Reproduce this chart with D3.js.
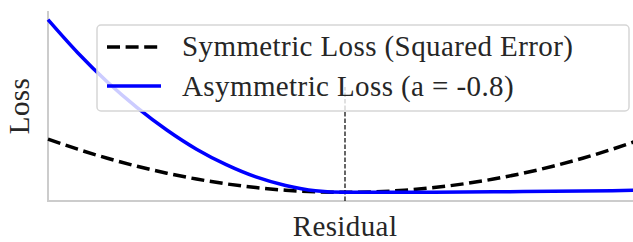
<!DOCTYPE html>
<html>
<head>
<meta charset="utf-8">
<script src="https://d3js.org/d3.v7.min.js"></script>
<style>
  body { margin: 0; background: #fff; }
  text { font-family: "Liberation Serif", serif; fill: #262626; }
</style>
</head>
<body>
<svg></svg>
<script>
// residual values
var residual = [-1, -0.9, -0.8, -0.7, -0.6, -0.5, -0.4, -0.3, -0.2, -0.1, 0,
                0.1, 0.2, 0.3, 0.4, 0.5, 0.6, 0.7, 0.8, 0.9, 1];
var symLoss  = [1, 0.81, 0.64, 0.49, 0.36, 0.25, 0.16, 0.09, 0.04, 0.01, 0,
                0.01, 0.04, 0.09, 0.16, 0.25, 0.36, 0.49, 0.64, 0.81, 1];
var asymLoss = [3.24, 2.62, 2.07, 1.59, 1.17, 0.81, 0.52, 0.29, 0.13, 0.03, 0,
                0.0004, 0.0016, 0.0036, 0.0064, 0.01, 0.0144, 0.0196, 0.0256, 0.0324, 0.04];
var seriesNames = ["Symmetric Loss (Squared Error)", "Asymmetric Loss (a = -0.8)"];
var vlineX = 0;

var W = 633, H = 242;
var svg = d3.select("svg").attr("width", W).attr("height", H);

var x = d3.scaleLinear().domain([-1, 1]).range([48, 642]);
var y = d3.scaleLinear().domain([-0.162, 3.402]).range([201, 11]);

// spines (left + bottom only)
svg.append("line").attr("x1", 48).attr("x2", 48).attr("y1", 11).attr("y2", 201)
  .attr("stroke", "#cccccc").attr("stroke-width", 2);
svg.append("line").attr("x1", 47).attr("x2", W).attr("y1", 201).attr("y2", 201)
  .attr("stroke", "#cccccc").attr("stroke-width", 2);

var line = d3.line().curve(d3.curveMonotoneX)
  .x(function(d) { return x(d[0]); })
  .y(function(d) { return y(d[1]); });

var symData = residual.map(function(r, i) { return [r, symLoss[i]]; });
var asymData = residual.map(function(r, i) { return [r, asymLoss[i]]; });

// vertical marker at zero residual
svg.append("line")
  .attr("x1", x(vlineX)).attr("x2", x(vlineX))
  .attr("y1", 201).attr("y2", 201 - 0.6 * 190)
  .attr("stroke", "#000").attr("stroke-width", 1.2)
  .attr("stroke-dasharray", "4.5,2");

svg.append("path").datum(symData)
  .attr("d", line).attr("fill", "none")
  .attr("stroke", "#000").attr("stroke-width", 3.5)
  .attr("stroke-dasharray", "13,5.6");

svg.append("path").datum(asymData)
  .attr("d", line).attr("fill", "none")
  .attr("stroke", "#0000ff").attr("stroke-width", 3.5);

// legend
var lg = svg.append("g");
lg.append("rect").attr("x", 97).attr("y", 25).attr("width", 532).attr("height", 86)
  .attr("rx", 4).attr("fill", "#fff").attr("fill-opacity", 0.8)
  .attr("stroke", "#d6d6d6").attr("stroke-width", 1.5);
lg.append("line").attr("x1", 107).attr("x2", 161).attr("y1", 47).attr("y2", 47)
  .attr("stroke", "#000").attr("stroke-width", 3.5).attr("stroke-dasharray", "13,5.6");
lg.append("line").attr("x1", 107).attr("x2", 161).attr("y1", 86).attr("y2", 86)
  .attr("stroke", "#0000ff").attr("stroke-width", 3.5);
lg.selectAll("text.leg").data(seriesNames).enter().append("text")
  .attr("class", "leg")
  .attr("x", 182).attr("y", function(d, i) { return 56 + i * 39.5; })
  .attr("font-size", 29).attr("letter-spacing", 0.4)
  .text(function(d) { return d; });

// axis labels
svg.append("text").attr("x", 345).attr("y", 236)
  .attr("text-anchor", "middle").attr("font-size", 29).attr("letter-spacing", 0.4)
  .text("Residual");
svg.append("text")
  .attr("transform", "translate(29,106) rotate(-90)")
  .attr("text-anchor", "middle").attr("font-size", 29).attr("letter-spacing", 0.4)
  .text("Loss");
</script>
</body>
</html>
